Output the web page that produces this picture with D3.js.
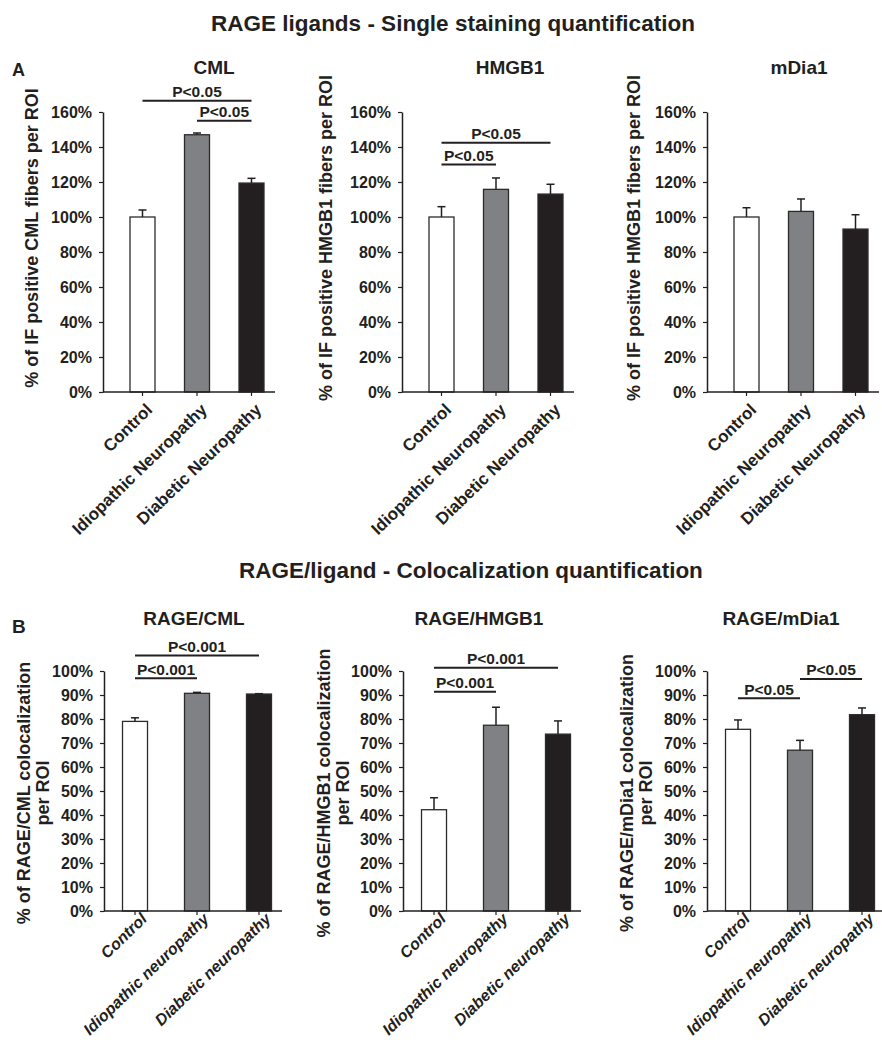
<!DOCTYPE html>
<html>
<head>
<meta charset="utf-8">
<script src="https://cdn.jsdelivr.net/npm/d3@7"></script>
<style>
  html, body { margin: 0; padding: 0; background: #fff; }
  svg { display: block; }
  text { font-family: "Liberation Sans", Arial, Helvetica, sans-serif; font-weight: bold; fill: #231f20; }
</style>
</head>
<body>
<div id="chart"></div>
<script>
// ---------------- DATA ----------------
const sectionTitles = ["RAGE ligands - Single staining quantification", "RAGE/ligand - Colocalization quantification"];
const panelLetters = ["A", "B"];

const categoriesA = ["Control", "Idiopathic Neuropathy", "Diabetic Neuropathy"];
const categoriesB = ["Control", "Idiopathic neuropathy", "Diabetic neuropathy"];

const titlesA = ["CML", "HMGB1", "mDia1"];
const titlesB = ["RAGE/CML", "RAGE/HMGB1", "RAGE/mDia1"];

const yLabelsA = [
  ["% of IF positive CML fibers per ROI"],
  ["% of IF positive HMGB1 fibers per ROI"],
  ["% of IF positive HMGB1 fibers per ROI"]
];
const yLabelsB = [
  ["% of RAGE/CML colocalization", "per ROI"],
  ["% of RAGE/HMGB1 colocalization", "per ROI"],
  ["% of RAGE/mDia1 colocalization", "per ROI"]
];

const ticksA = [0, 20, 40, 60, 80, 100, 120, 140, 160];
const ticksB = [0, 10, 20, 30, 40, 50, 60, 70, 80, 90, 100];

// means and (upper) SEM, in %
const cmlMean = [100, 147, 119.4];
const cmlErr = [4, 1, 2.7];
const hmgb1Mean = [100, 115.8, 113.1];
const hmgb1Err = [5.9, 6.5, 5.6];
const mdia1Mean = [100, 103.2, 93.1];
const mdia1Err = [5.3, 7.1, 8.2];

const rageCmlMean = [79, 90.7, 90.4];
const rageCmlErr = [1.5, 0.4, 0.15];
const rageHmgb1Mean = [42.2, 77.4, 73.7];
const rageHmgb1Err = [5, 7.5, 5.5];
const rageMdia1Mean = [75.7, 67, 81.8];
const rageMdia1Err = [3.9, 4.1, 2.8];

// significance brackets: [from index, to index, label, level (in %)]
const sigCml = [[0, 2, "P<0.05", 166.5], [1, 2, "P<0.05", 155]];
const sigHmgb1 = [[0, 2, "P<0.05", 142.5], [0, 1, "P<0.05", 130]];
const sigMdia1 = [];
const sigRageCml = [[0, 2, "P<0.001", 106.5], [0, 1, "P<0.001", 97]];
const sigRageHmgb1 = [[0, 2, "P<0.001", 101.4], [0, 1, "P<0.001", 91.4]];
const sigRageMdia1 = [[0, 1, "P<0.05", 88.6], [1, 2, "P<0.05", 96.7]];

const barColors = ["#ffffff", "#808184", "#231f20"];

// ---------------- LAYOUT ----------------
const W = 882, H = 1043;
const svg = d3.select("#chart").append("svg").attr("width", W).attr("height", H);

const rowA = { top: 112, bottom: 392, max: 160, ticks: ticksA, cats: categoriesA, len: 172,
  pi: 0.5413, po: 0.3486, align: 0.7105, italic: false, xlSize: 17, xlOff: [11, 19],
  titleY: 74, ylabY: 238 };
const rowB = { top: 671, bottom: 911, max: 100, ticks: ticksB, cats: categoriesB, len: 178,
  pi: 0.5968, po: 0.234, align: 0.638, italic: true, xlSize: 16, xlOff: [13, 9],
  titleY: 625, ylabY: 793 };

const panels = [
  { row: rowA, left: 103, title: titlesA[0], titleX: 214, ylab: yLabelsA[0], ylabX: 38, mean: cmlMean, err: cmlErr, sig: sigCml },
  { row: rowA, left: 402, title: titlesA[1], titleX: 510, ylab: yLabelsA[1], ylabX: 332, mean: hmgb1Mean, err: hmgb1Err, sig: sigHmgb1 },
  { row: rowA, left: 707, title: titlesA[2], titleX: 799, ylab: yLabelsA[2], ylabX: 640, mean: mdia1Mean, err: mdia1Err, sig: sigMdia1 },
  { row: rowB, left: 104, title: titlesB[0], titleX: 194, ylab: yLabelsB[0], ylabX: 30, mean: rageCmlMean, err: rageCmlErr, sig: sigRageCml },
  { row: rowB, left: 403, title: titlesB[1], titleX: 479, ylab: yLabelsB[1], ylabX: 330, mean: rageHmgb1Mean, err: rageHmgb1Err, sig: sigRageHmgb1 },
  { row: rowB, left: 707, title: titlesB[2], titleX: 781, ylab: yLabelsB[2], ylabX: 633, mean: rageMdia1Mean, err: rageMdia1Err, sig: sigRageMdia1 }
];

// section titles and letters
svg.append("text").attr("x", 453).attr("y", 30.5).attr("text-anchor", "middle")
  .style("font-size", "22.5px").text(sectionTitles[0]);
svg.append("text").attr("x", 471).attr("y", 578).attr("text-anchor", "middle")
  .style("font-size", "22.5px").text(sectionTitles[1]);
svg.append("text").attr("x", 12).attr("y", 76).style("font-size", "18px").text(panelLetters[0]);
svg.append("text").attr("x", 12).attr("y", 633).style("font-size", "19px").text(panelLetters[1]);

const ink = "#231f20";

panels.forEach(p => {
  const r = p.row;
  const g = svg.append("g");
  const x = d3.scaleBand().domain(r.cats).range([p.left, p.left + r.len])
    .paddingInner(r.pi).paddingOuter(r.po).align(r.align);
  const y = d3.scaleLinear().domain([0, r.max]).range([r.bottom, r.top]);
  const bw = x.bandwidth();

  // y axis
  const ya = g.append("g").attr("transform", `translate(${p.left},0)`)
    .call(d3.axisLeft(y).tickValues(r.ticks).tickFormat(d => d + "%").tickSize(4).tickSizeOuter(0).tickPadding(7));
  ya.select(".domain").attr("stroke", ink).attr("stroke-width", 1.5);
  ya.selectAll(".tick line").attr("stroke", ink).attr("stroke-width", 1.2);
  ya.selectAll(".tick text").style("font-size", "16px").attr("fill", ink)
    .style("font-family", '"Liberation Sans", Arial, sans-serif').style("font-weight", "bold");

  // bars
  g.selectAll("rect.bar").data(r.cats).enter().append("rect")
    .attr("x", c => x(c)).attr("width", bw)
    .attr("y", (c, i) => y(p.mean[i]))
    .attr("height", (c, i) => y(0) - y(p.mean[i]))
    .attr("fill", (c, i) => barColors[i])
    .attr("stroke", "#2b2b2b").attr("stroke-width", 1.3);

  // error bars (upper only)
  r.cats.forEach((c, i) => {
    const cx = x(c) + bw / 2;
    const y1 = y(p.mean[i]), y2 = y(p.mean[i] + p.err[i]);
    g.append("line").attr("x1", cx).attr("x2", cx).attr("y1", y1).attr("y2", y2)
      .attr("stroke", ink).attr("stroke-width", 1.5);
    g.append("line").attr("x1", cx - 4).attr("x2", cx + 4).attr("y1", y2).attr("y2", y2)
      .attr("stroke", ink).attr("stroke-width", 1.5);
  });

  // x axis
  g.append("line").attr("x1", p.left).attr("x2", p.left + r.len)
    .attr("y1", y(0)).attr("y2", y(0)).attr("stroke", ink).attr("stroke-width", 1.5);
  r.cats.forEach(c => {
    const cx = x(c) + bw / 2;
    g.append("line").attr("x1", cx).attr("x2", cx).attr("y1", y(0)).attr("y2", y(0) + 4)
      .attr("stroke", ink).attr("stroke-width", 1.2);
  });

  // x labels
  g.selectAll("text.xl").data(r.cats).enter().append("text")
    .attr("text-anchor", "end")
    .attr("transform", c => `translate(${x(c) + bw / 2 + r.xlOff[0]},${y(0) + r.xlOff[1]}) rotate(-44)`)
    .style("font-size", r.xlSize + "px")
    .style("font-style", r.italic ? "italic" : "normal")
    .text(c => c);

  // title
  g.append("text").attr("x", p.titleX).attr("y", r.titleY).attr("text-anchor", "middle")
    .style("font-size", "19px").text(p.title);

  // y label
  p.ylab.forEach((line, k) => {
    g.append("text").attr("text-anchor", "middle")
      .attr("transform", `translate(${p.ylabX + k * 19},${r.ylabY}) rotate(-90)`)
      .style("font-size", "18px").text(line);
  });

  // significance brackets
  p.sig.forEach(s => {
    const xa = x(r.cats[s[0]]) + bw / 2, xb = x(r.cats[s[1]]) + bw / 2;
    const yy = y(s[3]);
    g.append("line").attr("x1", xa).attr("x2", xb).attr("y1", yy).attr("y2", yy)
      .attr("stroke", ink).attr("stroke-width", 2);
    g.append("text").attr("x", (xa + xb) / 2).attr("y", yy - 3.5).attr("text-anchor", "middle")
      .style("font-size", "15.5px").text(s[2]);
  });
});
</script>
</body>
</html>
